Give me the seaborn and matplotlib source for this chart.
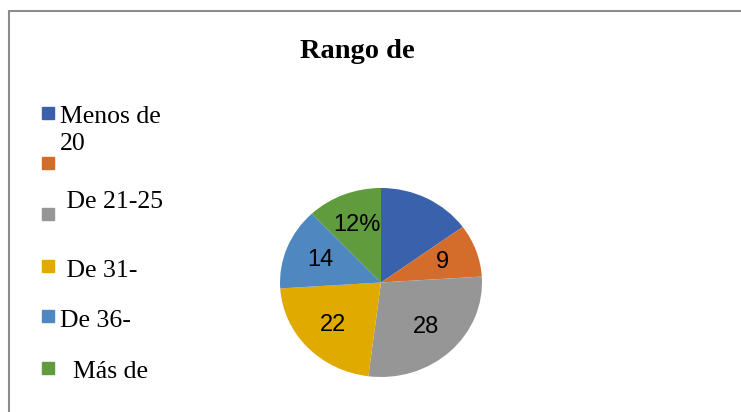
import matplotlib.pyplot as plt
import seaborn as sns
from matplotlib.patches import Rectangle
from matplotlib.lines import Line2D

# data
categories = ["Menos de\n20", "", " De 21-25", " De 31-", "De 36-", "  Más de"]
values = [15, 9, 28, 22, 14, 12]
slice_labels = ["", "9", "28", "22", "14", "12%"]
colors = ["#3A61AC", "#D46C2C", "#969696", "#E0AA00", "#4F88C0", "#609C3E"]

sns.set_theme(style="white")
plt.rcParams["font.family"] = ["Liberation Serif", "DejaVu Serif"]
plt.rcParams["text.color"] = "black"

W, H = 741, 412
fig = plt.figure(figsize=(W / 100, H / 100), dpi=100)


def fx(px):
    return px / W


def fy(py):
    return 1 - py / H


# pie axes (slightly elliptic like the original)
ax = fig.add_axes([fx(280), fy(377), fx(202), 189 / H])
wedges, texts = ax.pie(
    values,
    labels=slice_labels,
    colors=colors,
    startangle=90,
    counterclock=False,
    radius=1,
    labeldistance=0.65,
    wedgeprops=dict(linewidth=0),
    textprops=dict(fontsize=17, family=["Liberation Sans"], color="black",
                   ha="center", va="center"),
)
ax.set_xlim(-1, 1)
ax.set_ylim(-1, 1)
ax.set_aspect("auto")
ax.axis("off")

fig.text(fx(357), fy(52), "Rango de", ha="center", va="center",
         fontsize=20.5, fontweight="bold", color="black")

# hand-placed legend, as in the original
sq_tops = [107, 157, 208, 260, 310, 362]
text_pos = [(60, 123), (60, 208), (60, 208), (60, 277), (60, 327), (60, 378)]
for color, top in zip(colors, sq_tops):
    fig.patches.append(Rectangle((fx(42), fy(top + 12)), fx(12), 12 / H,
                                 transform=fig.transFigure, color=color))

fig.text(fx(60), fy(123), "Menos de", fontsize=18.5, va="baseline", color="black")
fig.text(fx(60), fy(150), "20", fontsize=18.5, va="baseline", color="black")
for lab, (x, y) in zip(categories[2:], text_pos[2:]):
    fig.text(fx(x), fy(y), lab, fontsize=18.5, va="baseline", color="black")

# chart border (top and left visible)
fig.add_artist(Line2D([fx(9), 1], [fy(11), fy(11)], color="#8c8c8c", lw=1.5))
fig.add_artist(Line2D([fx(9), fx(9)], [fy(11), 0], color="#8c8c8c", lw=1.5))

fig.savefig("out.png", dpi=100)
